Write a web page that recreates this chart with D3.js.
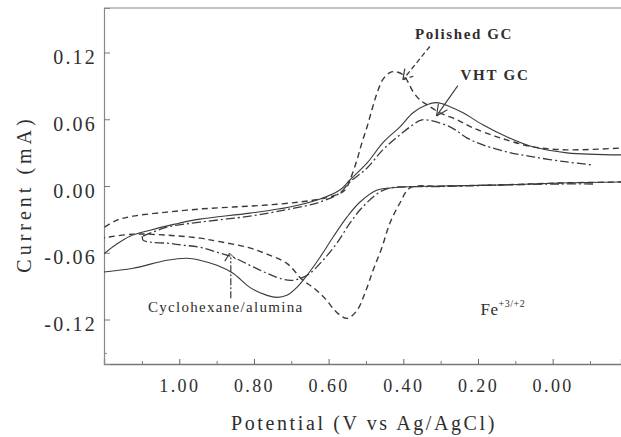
<!DOCTYPE html>
<html><head><meta charset="utf-8">
<script src="https://cdn.jsdelivr.net/npm/d3@7"></script>
<style>
body{margin:0;background:#fff}
svg{display:block;background:#fff}
text{font-family:"Liberation Serif","Times New Roman",serif;fill:#2e2e2e}
</style>
</head><body>
<svg id="c" width="621" height="437"></svg>
<script>
// ---- data ----
const xTicks = [1.0, 0.8, 0.6, 0.4, 0.2, 0.0];
const xTickLabels = ["1.00", "0.80", "0.60", "0.40", "0.20", "0.00"];
const xMinorTicks = [1.1, 0.9, 0.7, 0.5, 0.3, 0.1, -0.1];
const yTicks = [0.12, 0.06, 0.0, -0.06, -0.12];
const yTickLabels = ["0.12", "0.06", "0.00", "-0.06", "-0.12"];
const yMinorTicks = [-0.15];

// Polished GC (dashed): [potential V, current mA]
const polishedForward = [[1.20,-0.037],[1.167,-0.0307],[1.124,-0.0271],[1.033,-0.0235],[0.945,-0.0207],[0.856,-0.0189],[0.765,-0.0171],[0.677,-0.0144],[0.623,-0.0117],[0.588,-0.009],[0.556,-0.0036],[0.543,0.0054],[0.524,0.0235],[0.511,0.0388],[0.497,0.0532],[0.484,0.0686],[0.470,0.0839],[0.455,0.0956],[0.436,0.1019],[0.422,0.1028],[0.401,0.1001],[0.388,0.0938],[0.374,0.0848],[0.356,0.0776],[0.337,0.0731],[0.302,0.0658],[0.256,0.0595],[0.214,0.0523],[0.141,0.0433],[0.053,0.0352],[-0.038,0.0325],[-0.19,0.0343]];
const polishedReverse = [[-0.19,0.0036],[-0.019,0.0027],[0.141,0.0009],[0.30,-0.0002],[0.382,-0.0018],[0.409,-0.0153],[0.436,-0.0334],[0.457,-0.055],[0.481,-0.0758],[0.503,-0.0965],[0.524,-0.1118],[0.551,-0.119],[0.578,-0.1137],[0.610,-0.101],[0.642,-0.0911],[0.669,-0.0848],[0.712,-0.0695],[0.765,-0.0613],[0.819,-0.055],[0.899,-0.0496],[0.945,-0.0469],[1.033,-0.0442],[1.124,-0.0433],[1.21,-0.0469]];

// VHT GC (solid)
const vhtForward = [[1.21,-0.0631],[1.172,-0.0532],[1.132,-0.0451],[1.078,-0.0397],[1.012,-0.0343],[0.945,-0.0298],[0.811,-0.0244],[0.704,-0.0189],[0.623,-0.0117],[0.570,-0.0036],[0.543,0.0054],[0.497,0.0207],[0.455,0.0388],[0.409,0.0532],[0.374,0.0658],[0.337,0.0731],[0.310,0.0749],[0.275,0.0713],[0.240,0.0658],[0.187,0.055],[0.123,0.0442],[0.053,0.0352],[-0.038,0.0298],[-0.19,0.028]];
const vhtReverse = [[-0.19,0.0036],[-0.019,0.0027],[0.141,0.0009],[0.30,0.0],[0.409,-0.0009],[0.436,-0.0018],[0.470,-0.0036],[0.516,-0.0144],[0.551,-0.028],[0.588,-0.0459],[0.623,-0.064],[0.658,-0.0803],[0.685,-0.0911],[0.712,-0.0983],[0.738,-0.1001],[0.765,-0.0983],[0.811,-0.0911],[0.856,-0.0785],[0.899,-0.0713],[0.945,-0.0667],[0.979,-0.0649],[1.033,-0.0667],[1.124,-0.074],[1.21,-0.0776]];

// Cyclohexane/alumina (dash-dot)
const cycloForward = [[1.097,-0.0451],[1.033,-0.037],[0.945,-0.0325],[0.811,-0.0271],[0.704,-0.0207],[0.623,-0.0144],[0.570,-0.0063],[0.543,0.0036],[0.497,0.0162],[0.455,0.0325],[0.409,0.046],[0.374,0.055],[0.350,0.0595],[0.275,0.0532],[0.230,0.0433],[0.187,0.037],[0.123,0.0307],[0.053,0.0262],[-0.038,0.0216],[-0.108,0.0189]];
const cycloReverse = [[-0.108,0.0018],[-0.019,0.0018],[0.141,0.0009],[0.30,-0.0005],[0.409,-0.0009],[0.436,-0.0018],[0.463,-0.0054],[0.509,-0.0189],[0.543,-0.0334],[0.578,-0.0514],[0.615,-0.0667],[0.650,-0.0785],[0.669,-0.0821],[0.696,-0.0848],[0.722,-0.0839],[0.765,-0.0785],[0.811,-0.0713],[0.856,-0.064],[0.899,-0.0595],[0.945,-0.055],[0.990,-0.0532],[1.033,-0.0514],[1.078,-0.0505],[1.097,-0.0487],[1.099,-0.0451]];

// ---- chart ----
const W = 621, H = 437;
const L = 104, R = 621, T = 8, B = 364;
const svg = d3.select("#c");
const x = d3.scaleLinear().domain([1.2016, -0.183]).range([L, R]);
const y = d3.scaleLinear().domain([-0.16, 0.16]).range([B, T]);

svg.append("defs").append("clipPath").attr("id","clip")
  .append("rect").attr("x",L).attr("y",T).attr("width",R-L).attr("height",B-T);

const ink = "#3a3a3a";

// axes
const xAxis = svg.append("g").attr("transform",`translate(0,${B})`)
  .call(d3.axisBottom(x).tickValues(xTicks).tickSize(-5).tickFormat((d,i)=>xTickLabels[i]));
xAxis.select(".domain").attr("stroke","#777").attr("stroke-width",1.3);
xAxis.selectAll(".tick line").attr("stroke","#666");
xAxis.selectAll("text").attr("y",28).attr("dy",null)
  .style("font-size","18px").style("letter-spacing","2.4px").attr("fill","#333");
svg.append("g").attr("transform",`translate(0,${B})`)
  .call(d3.axisBottom(x).tickValues(xMinorTicks).tickSize(-3).tickFormat(""))
  .call(g=>{g.select(".domain").remove(); g.selectAll("line").attr("stroke","#777");});

const yAxis = svg.append("g").attr("transform",`translate(${L},0)`)
  .call(d3.axisLeft(y).tickValues(yTicks).tickSize(-6).tickPadding(7).tickFormat((d,i)=>yTickLabels[i]));
yAxis.select(".domain").attr("stroke","#888").attr("stroke-width",1.2);
yAxis.selectAll(".tick line").attr("stroke","#777");
yAxis.selectAll("text").attr("dy",null).attr("y",11)
  .style("font-size","20px").style("letter-spacing","2.2px").attr("fill","#333");
svg.append("g").attr("transform",`translate(${L},0)`)
  .call(d3.axisLeft(y).tickValues(yMinorTicks).tickSize(-3).tickFormat(""))
  .call(g=>{g.select(".domain").remove(); g.selectAll("line").attr("stroke","#888");});

// top frame
svg.append("line").attr("x1",L).attr("x2",R).attr("y1",T).attr("y2",T)
  .attr("stroke","#888").attr("stroke-width",1.2);

// axis titles
svg.append("text").attr("x",364).attr("y",430).attr("text-anchor","middle")
  .style("font-size","20px").style("letter-spacing","2.6px").text("Potential (V vs Ag/AgCl)");
svg.append("text").attr("transform","translate(31,194) rotate(-90)").attr("text-anchor","middle")
  .style("font-size","20px").style("letter-spacing","4px").text("Current (mA)");

// curves
const line = d3.line().x(d=>x(d[0])).y(d=>y(d[1])).curve(d3.curveCatmullRom.alpha(0.5));
const plot = svg.append("g").attr("clip-path","url(#clip)");
const series = [
  {data:[polishedForward, polishedReverse], dash:"6,4", w:1.4},
  {data:[vhtForward, vhtReverse], dash:null, w:1.1},
  {data:[cycloForward, cycloReverse], dash:"9,3,2,3", w:1.3}
];
series.forEach(s=>{
  s.data.forEach(br=>{
    plot.append("path").datum(br).attr("d",line).attr("fill","none")
      .attr("stroke",ink).attr("stroke-width",s.w)
      .attr("stroke-dasharray",s.dash);
  });
});

// annotations
function ann(txt, v, i, size, ls){
  return svg.append("text").attr("x",x(v)).attr("y",y(i))
    .style("font-size",size+"px").style("letter-spacing",ls+"px").text(txt);
}
ann("Polished GC", 0.369, 0.1317, 15, 1.6).style("font-weight","bold").attr("fill","#444");
ann("VHT GC", 0.247, 0.0957, 15, 1.8).style("font-weight","bold").attr("fill","#444");
ann("Cyclohexane/alumina", 1.084, -0.1137, 15, 1.3).attr("fill","#444");
const fe = ann("Fe", 0.193, -0.1164, 17, 0.5).attr("fill","#333");
fe.append("tspan").attr("dy",-8).style("font-size","10px").text("+3/+2");

function seg(v1,i1,v2,i2,dash,w){
  svg.append("line").attr("x1",x(v1)).attr("y1",y(i1)).attr("x2",x(v2)).attr("y2",y(i2))
    .attr("stroke",ink).attr("stroke-width",w||1.1).attr("stroke-dasharray",dash);
}
// Polished GC arrow (dashed)
seg(0.329,0.1254, 0.401,0.0956, "5,3",1.3);
seg(0.401,0.0956, 0.396,0.1055, null,1.2);
seg(0.401,0.0956, 0.368,0.0992, "4,3",1.3);
// VHT GC arrow
seg(0.254,0.0902, 0.311,0.0630, null,1.1);
seg(0.311,0.0630, 0.306,0.0740, null,1.1);
seg(0.311,0.0630, 0.282,0.0685, null,1.1);
// Cyclohexane arrow (dash-dot)
seg(0.862,-0.1010, 0.862,-0.0640, "7,2,2,2",1.2);
seg(0.865,-0.0604, 0.878,-0.0676, null,1.2);
seg(0.865,-0.0604, 0.849,-0.0658, null,1.0);
</script>
</body></html>
